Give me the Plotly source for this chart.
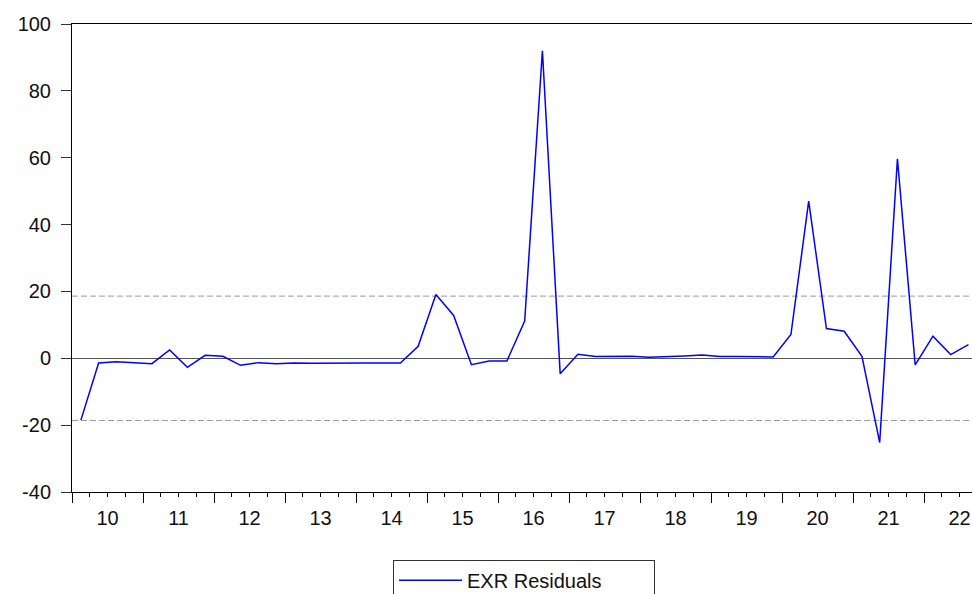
import plotly.graph_objects as go

# Quarterly residuals, 2010Q1 .. 2022Q3
years = list(range(2010, 2023))
year_labels = [str(y)[2:] for y in years]
residuals = [
    -18.5, -1.4, -1.0, -1.2,   # 2010
    -1.6, 2.5, -2.7, 0.9,      # 2011
    0.6, -2.1, -1.3, -1.6,     # 2012
    -1.4, -1.5, -1.4, -1.4,    # 2013
    -1.4, -1.4, -1.4, 3.6,     # 2014
    19.1, 12.8, -1.9, -0.8,    # 2015
    -0.8, 11.1, 92.0, -4.6,    # 2016
    1.2, 0.5, 0.5, 0.6,        # 2017
    0.3, 0.4, 0.7, 1.0,        # 2018
    0.5, 0.5, 0.4, 0.4,        # 2019
    7.1, 47.0, 8.9, 8.1,       # 2020
    0.6, -25.2, 59.7, -2.0,    # 2021
    6.6, 1.1, 4.1,             # 2022
]
band = 18.6  # +/- band shown as dashed lines
y_ticks = [-40, -20, 0, 20, 40, 60, 80, 100]
y_tick_text = ["-40", "-20", "0", "20", "40", "60", "80", "100"]

# position each quarter at the centre of its slot (quarter units from 2010Q1)
xq = [i + 0.5 for i in range(len(residuals))]
x_range = [0, 50.7]
year_bounds = [4 * i for i in range(len(years))]
year_centres = [4 * i + 2 for i in range(len(years))]
quarter_bounds = [i for i in range(0, 51)]

FONT = "Arial, Liberation Sans, sans-serif"

fig = go.Figure()
fig.add_trace(go.Scatter(
    x=xq, y=residuals, mode="lines", name="EXR Residuals",
    line=dict(color="#0000ff", width=1.5),
))
# dummy trace to carry the tick axis
fig.add_trace(go.Scatter(
    x=xq, y=residuals, mode="lines", xaxis="x2", showlegend=False,
    line=dict(color="rgba(0,0,0,0)", width=0), hoverinfo="skip",
))

fig.add_hline(y=band, line=dict(color="#9a9a9a", width=1, dash="6px,3px"), layer="below")
fig.add_hline(y=-band, line=dict(color="#9a9a9a", width=1, dash="6px,3px"), layer="below")

fig.update_layout(
    width=972, height=594,
    margin=dict(l=72, r=0, t=24, b=102, autoexpand=False),
    paper_bgcolor="white", plot_bgcolor="white",
    font=dict(family=FONT, size=20, color="#111"),
    xaxis=dict(
        range=x_range, tickmode="array", tickvals=year_centres, ticktext=year_labels,
        ticks="outside", ticklen=8, tickcolor="rgba(0,0,0,0)",
        showline=True, linecolor="black", linewidth=1, mirror=True,
        showgrid=False, zeroline=False, tickfont=dict(size=20),
    ),
    xaxis2=dict(
        range=x_range, overlaying="x", anchor="y", side="bottom",
        tickmode="array", tickvals=year_bounds, ticks="outside", ticklen=10,
        tickcolor="black", tickwidth=1, showticklabels=False,
        showgrid=False, zeroline=False, showline=False,
        minor=dict(tickmode="array", tickvals=quarter_bounds, ticks="outside",
                   ticklen=4, tickcolor="black", tickwidth=1, showgrid=False),
    ),
    yaxis=dict(
        range=[-40, 100], tickmode="array", tickvals=y_ticks, ticktext=y_tick_text,
        ticks="outside", ticklen=10, tickcolor="#333",
        showline=True, linecolor="black", linewidth=1,
        showgrid=False, zeroline=True, zerolinecolor="#555", zerolinewidth=1,
        tickfont=dict(size=20), ticklabelstandoff=6,
    ),
    showlegend=True,
    legend=dict(
        orientation="h",
        x=0.3567, xanchor="left", y=-0.145, yanchor="top",
        bordercolor="#333", borderwidth=1, bgcolor="white",
        font=dict(size=20), itemwidth=63, entrywidth=182,
    ),
)

fig.write_html(
    "out.html",
    config={"displayModeBar": False},
    post_script="document.body.style.margin='0';document.body.style.overflow='hidden';",
)
